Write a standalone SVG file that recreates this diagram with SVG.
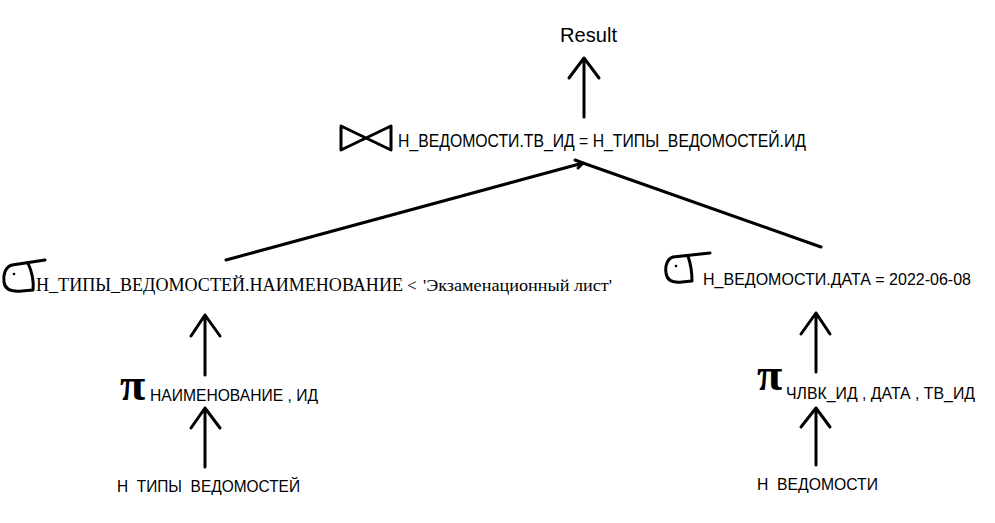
<svg xmlns="http://www.w3.org/2000/svg" width="995" height="523" viewBox="0 0 995 523">
<style>
.s{font-family:"Liberation Sans",Arial,sans-serif;fill:#000;white-space:pre}
.t{font-family:"Liberation Serif","Times New Roman",serif;fill:#000}
.ln{stroke:#000;stroke-width:3;fill:none;stroke-linecap:round;stroke-linejoin:round}
.pi{font-family:"Liberation Serif","Times New Roman",serif;font-weight:bold;font-size:46px;fill:#000}
</style>
<rect width="995" height="523" fill="#fff"/>
<g id="connectors" class="ln">
<path d="M584 117 V58 M569 78 L584 58 L599 78"/>
<path d="M226 260 L583 163 L821 247"/>
<path d="M575 160 L583 163 L578 168"/>
<path d="M205 375 V315 M191 336 L205 315 L220 336"/>
<path d="M205 467 V408 M191 428 L205 408 L220 428"/>
<path d="M816 372 V313 M801 334 L816 313 L830 334"/>
<path d="M816 465 V408 M801 427 L816 408 L830 427"/>
</g>
<g id="result"><text class="s" x="560" y="42" font-size="21" textLength="57" lengthAdjust="spacingAndGlyphs">Result</text></g>
<g id="join">
<path class="ln" d="M341 126 V150 L391 126 V150 L341 126"/>
<text class="s" x="398" y="147" font-size="19" textLength="408" lengthAdjust="spacingAndGlyphs">Н_ВЕДОМОСТИ.ТВ_ИД = Н_ТИПЫ_ВЕДОМОСТЕЙ.ИД</text>
</g>
<g id="select-left">
<path class="ln" d="M45 260 L12 265 C5 267 3 275 4 282 C5 290 12 292 22 291 L33 290 C34 281 32 272 28 263"/>
<circle cx="14" cy="274" r="1.3" fill="#000"/>
<text class="t" x="36" y="291" font-size="18" textLength="367" lengthAdjust="spacingAndGlyphs">Н_ТИПЫ_ВЕДОМОСТЕЙ.НАИМЕНОВАНИЕ</text>
<text class="t" x="407" y="291" font-size="17">&lt;</text>
<text class="t" x="423" y="291" font-size="16" textLength="189" lengthAdjust="spacingAndGlyphs">'Экзаменационный лист'</text>
</g>
<g id="select-right">
<path class="ln" d="M710 253 L673 257 C667 259 665 266 666 273 C667 281 673 283 682 282 L692 281 C692 273 691 265 688 256"/>
<circle cx="676" cy="266" r="1.3" fill="#000"/>
<text class="s" x="703" y="285" font-size="17" textLength="268" lengthAdjust="spacingAndGlyphs">Н_ВЕДОМОСТИ.ДАТА = 2022-06-08</text>
</g>
<g id="project-left">
<text class="pi" x="120" y="400">π</text>
<text class="s" x="150" y="401" font-size="16" textLength="168" lengthAdjust="spacingAndGlyphs">НАИМЕНОВАНИЕ , ИД</text>
</g>
<g id="project-right">
<text class="pi" x="757" y="390">π</text>
<text class="s" x="786" y="399" font-size="16" textLength="189" lengthAdjust="spacingAndGlyphs">ЧЛВК_ИД , ДАТА , ТВ_ИД</text>
</g>
<g id="table-left"><text class="s" x="117" y="492" font-size="17" textLength="183" lengthAdjust="spacingAndGlyphs">Н  ТИПЫ  ВЕДОМОСТЕЙ</text></g>
<g id="table-right"><text class="s" x="757" y="490" font-size="17" textLength="121" lengthAdjust="spacingAndGlyphs">Н  ВЕДОМОСТИ</text></g>
</svg>
